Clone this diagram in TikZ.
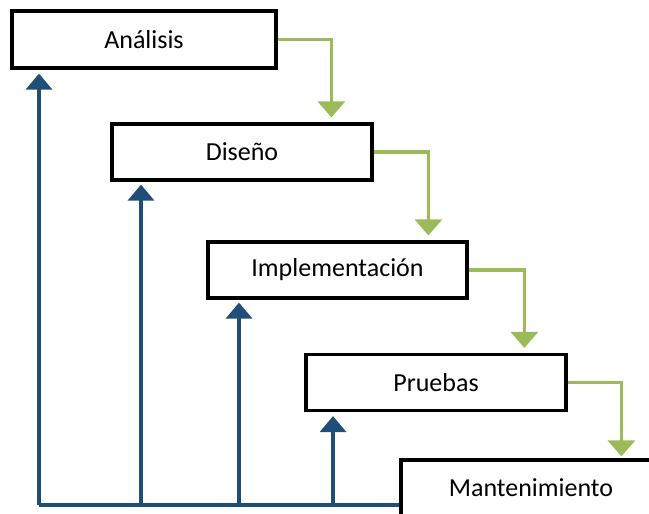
\documentclass[tikz,border=0pt]{standalone}
\usepackage{fontspec}
\setmainfont{Carlito}
\usetikzlibrary{arrows.meta,calc}
\definecolor{fblue}{RGB}{31,78,121}
\definecolor{fgreen}{RGB}{155,187,89}
\begin{document}
\begin{tikzpicture}[x=1pt,y=-1pt,
  stage/.style={draw=black,line width=3.2pt,fill=white,minimum width=260pt,minimum height=56pt,inner sep=0pt,font=\fontsize{26}{31}\selectfont},
  fwd/.style={draw=fgreen,line width=3.2pt,-{Triangle[width=27pt,length=16pt]}},
  back/.style={draw=fblue,line width=3.4pt,-{Triangle[width=26pt,length=16pt]}},
  backline/.style={draw=fblue,line width=3.4pt}]
\useasboundingbox (0,0) rectangle (649,514);
\node[stage,minimum width=264pt,minimum height=57pt] (a) at (144,39.5) {Análisis};
\node[stage] (d) at (242,152) {Diseño};
\node[stage,minimum width=259pt] (i) at (337.5,270) {Implementación};
\node[stage] (p) at (436,382.5) {Pruebas};
\node[stage] (m) at (531,488) {Mantenimiento};
% forward arrows
\coordinate (ta) at ($(d.north west)+(221,-5)$);
\draw[fwd] (a.east) -| (ta);
\coordinate (td) at ($(i.north west)+(222,-5)$);
\draw[fwd] (d.east) -| (td);
\coordinate (ti) at ($(p.north west)+(220,-5)$);
\draw[fwd] (i.east) -| (ti);
\coordinate (tp) at ($(m.north west)+(222,-2)$);
\draw[fwd] (p.east) -| (tp);
% feedback arrows
\coordinate (b0) at (39,505);
\coordinate (b1) at (141,505);
\coordinate (b2) at (239,505);
\coordinate (b3) at (333,505);
\draw[backline] (m.west |- b0) -- (b0);
\draw[back] (b0) -- ($(b0 |- a.south)+(0,4)$);
\draw[back] (b1) -- ($(b1 |- d.south)+(0,3)$);
\draw[back] (b2) -- ($(b2 |- i.south)+(0,3)$);
\draw[back] (b3) -- ($(b3 |- p.south)+(0,4)$);
\end{tikzpicture}
\end{document}
